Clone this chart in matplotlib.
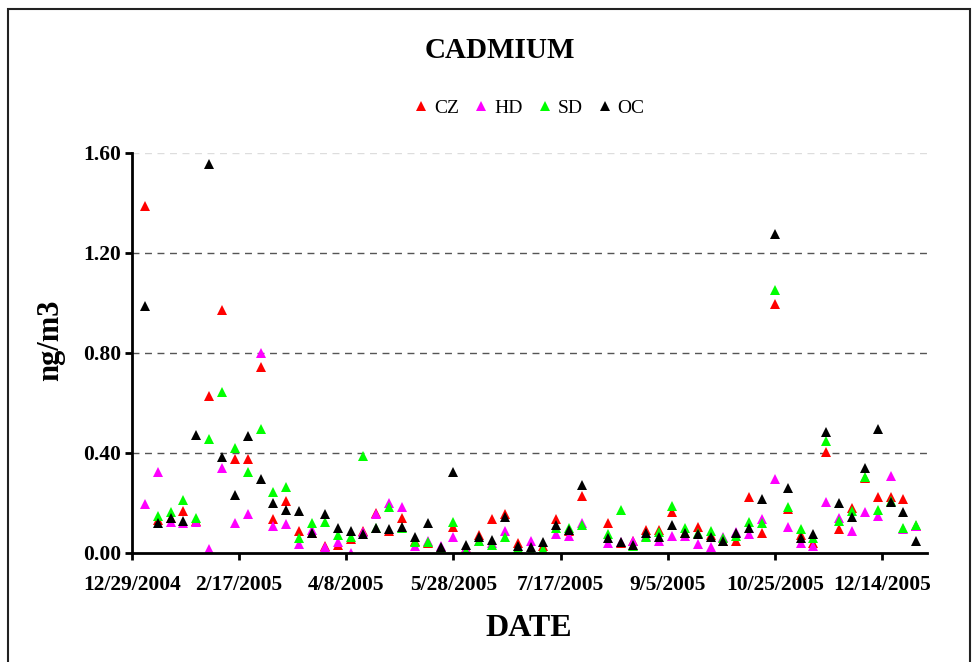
import numpy as np
import matplotlib
matplotlib.use('Agg')
import matplotlib.pyplot as plt
from matplotlib.patches import Rectangle
import datetime as dt

nan = np.nan

# sampling dates: every 6 days starting 1/4/2005
start = dt.date(2005, 1, 4)
dates = [start + dt.timedelta(days=6 * i) for i in range(61)]

cz = [1.39, 0.132, 0.14, 0.169, 0.13, 0.629, 0.973, 0.375, 0.375, 0.743,
      0.135, 0.210, 0.090, 0.08, 0.03, 0.032, 0.055, 0.088, 0.160, 0.09,
      0.141, 0.05, 0.04, 0.02, 0.103, 0.02, 0.072, 0.135, 0.155, 0.042,
      0.003, 0.03, 0.137, 0.09, 0.228, nan, 0.119, 0.04, 0.05, 0.092,
      0.092, 0.164, 0.08, 0.103, 0.073, 0.05, 0.050, 0.223, 0.080, 0.996,
      0.177, 0.071, 0.041, 0.405, 0.095, 0.179, 0.300, 0.223, 0.223, 0.218,
      0.11]
hd = [0.195, 0.325, 0.125, 0.12, 0.125, 0.017, 0.339, 0.119, 0.155, 0.799,
      0.110, 0.117, 0.038, 0.092, 0.026, 0.045, 0.001, 0.085, 0.155, 0.202,
      0.185, 0.030, 0.048, 0.03, 0.065, 0.02, 0.049, 0.04, 0.088, 0.008,
      0.048, 0.0, 0.075, 0.069, 0.121, nan, 0.041, 0.045, 0.049, 0.07,
      0.048, 0.068, 0.07, 0.036, 0.025, 0.064, 0.085, 0.075, 0.135, 0.295,
      0.106, 0.041, 0.028, 0.205, 0.142, 0.090, 0.165, 0.147, 0.309, 0.096,
      0.11]
sd = [nan, 0.150, 0.163, 0.212, 0.141, 0.456, 0.643, 0.419, 0.325, 0.495,
      0.245, 0.265, 0.062, 0.119, 0.125, 0.074, 0.066, 0.390, 0.10, 0.184,
      0.10, 0.046, 0.043, 0.02, 0.123, 0.008, 0.05, 0.033, 0.063, 0.02,
      0.01, 0.017, 0.099, 0.099, 0.112, nan, 0.078, 0.173, 0.03, 0.063,
      0.083, 0.189, 0.102, 0.079, 0.090, 0.06, 0.07, 0.124, 0.119, 1.052,
      0.184, 0.097, 0.06, 0.448, 0.127, 0.167, 0.306, 0.174, 0.21, 0.100,
      0.113]
oc = [0.99, 0.119, 0.141, 0.129, 0.472, 1.556, 0.385, 0.232, 0.468, 0.296,
      0.200, 0.172, 0.168, 0.079, 0.156, 0.102, 0.090, 0.077, 0.099, 0.095,
      0.105, 0.066, 0.119, 0.025, 0.325, 0.032, 0.065, 0.052, 0.146, 0.030,
      0.025, 0.043, 0.112, 0.092, 0.272, nan, 0.062, 0.043, 0.031, 0.079,
      0.065, 0.112, 0.080, 0.078, 0.063, 0.047, 0.079, 0.102, 0.217, 1.275,
      0.260, 0.062, 0.075, 0.484, 0.199, 0.144, 0.342, 0.495, 0.205, 0.166,
      0.047]

series = [('CZ', cz, '#ff0000'), ('HD', hd, '#ff00ff'),
          ('SD', sd, '#00ff00'), ('OC', oc, '#000000')]

tick_dates = [dt.date(2004, 12, 29) + dt.timedelta(days=50 * i) for i in range(8)]

serif = ['Liberation Serif', 'DejaVu Serif']

fig = plt.figure(figsize=(9.77, 6.62), dpi=100)
ax = fig.add_axes([132 / 977, 1 - 553 / 662, (927 - 132) / 977, 400 / 662])

for name, vals, col in series:
    ax.plot(dates, vals, linestyle='none', marker='^', markersize=7.5,
            color=col, markeredgewidth=0, label=name)

ax.set_xlim(dt.date(2004, 12, 29), dt.date(2006, 1, 4))
ax.set_ylim(0, 1.6)
ax.set_xticks(tick_dates)
ax.set_xticklabels([f'{d.month}/{d.day}/{d.year}' for d in tick_dates])
ax.set_yticks([0, 0.4, 0.8, 1.2, 1.6])
ax.set_yticklabels(['0.00', '0.40', '0.80', '1.20', '1.60'])

for lab in ax.get_xticklabels() + ax.get_yticklabels():
    lab.set_family(serif)
    lab.set_fontweight('bold')
    lab.set_fontsize(15.5)

ax.tick_params(direction='out', length=5, width=2, color='black')
ax.tick_params(axis='x', pad=11)
ax.tick_params(axis='y', pad=3)
ax.grid(axis='y', color='#555555', linestyle=(0, (5, 4)), linewidth=1)
ax.get_ygridlines()[-1].set_color('#dddddd')
ax.get_ygridlines()[0].set_visible(False)

for s in ['top', 'right']:
    ax.spines[s].set_visible(False)
for s in ['left', 'bottom']:
    ax.spines[s].set_linewidth(2)
    ax.spines[s].set_color('black')

fig.text(500 / 977, 1 - 50 / 662, 'CADMIUM', ha='center', va='center',
         family=serif, fontweight='bold', fontsize=21)
fig.text(529 / 977, 1 - 628 / 662, 'DATE', ha='center', va='center',
         family=serif, fontweight='bold', fontsize=23)
fig.text(51 / 977, 1 - 340 / 662, 'ng/m3', ha='center', va='center',
         rotation=90, family=serif, fontweight='bold', fontsize=22)

leg = fig.legend(loc='center', bbox_to_anchor=(529 / 977, 1 - 108 / 662),
                 ncol=4, frameon=False, handlelength=0.8, handletextpad=0.25,
                 columnspacing=0.75, prop={'family': serif, 'size': 14})

fig.patches.append(Rectangle((8 / 977, -0.02), (970 - 8) / 977, 1.02 - 9 / 662,
                             transform=fig.transFigure, fill=False,
                             edgecolor='#222222', linewidth=1.5))

fig.savefig('out.png', dpi=100)
